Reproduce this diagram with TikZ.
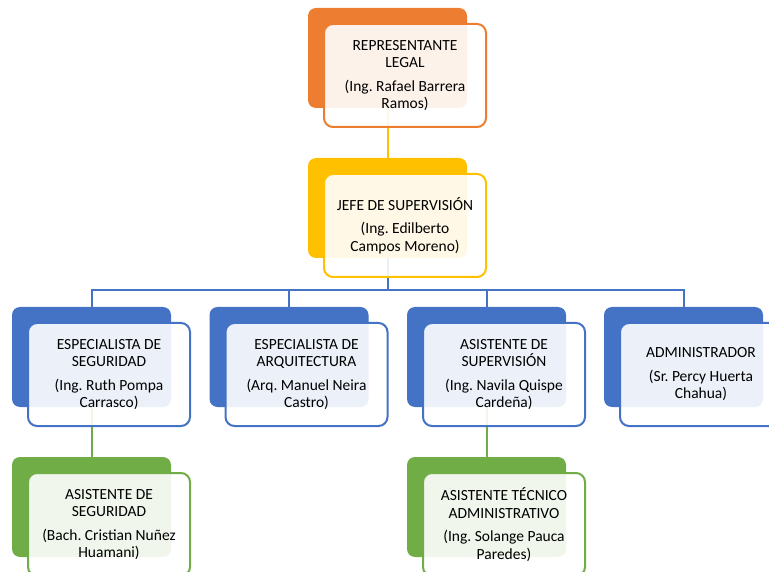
\documentclass[tikz,border=0pt]{standalone}
\usepackage{fontspec}
\setmainfont{Carlito}
\frenchspacing
\definecolor{corange}{HTML}{ED7D31}
\definecolor{cyellow}{HTML}{FFC000}
\definecolor{cblue}{HTML}{4472C4}
\definecolor{cgreen}{HTML}{70AD47}
\tikzset{
  backbox/.style={draw=none, rounded corners=8pt, minimum width=159pt, minimum height=100pt, inner sep=0pt},
  frontbox/.style={line width=2pt, rounded corners=9pt, fill=white, fill opacity=0.9,
    minimum width=162pt, minimum height=103pt, inner sep=0pt},
  boxtext/.style={inner sep=0pt, align=center, font=\fontsize{15.5}{17.5}\selectfont},
  conn/.style={line width=2pt},
}
\newcommand\orgunit[5]{%
  \node[backbox, fill=#4] (#1b) at (#2,#3) {};
  \node[frontbox, draw=#4] (#1) at ([xshift=17.5pt,yshift=-17.5pt]#1b.center) {};
  \node[boxtext] (#1t) at (#1.center) {#5};
}
\begin{document}
\begin{tikzpicture}[x=1pt,y=-1pt]
\useasboundingbox (0,0) rectangle (769,572);
\clip (0,0) rectangle (769,572);
% connectors first (behind boxes)
\coordinate (bar) at (0,290);
\coordinate (repc) at (387.5,108);
\coordinate (jefetop) at (387.5,158);
\coordinate (jefec) at (387.5,258);
\draw[conn, cyellow] (repc) -- (jefetop);
\draw[conn, cblue] (jefec) -- (jefec |- bar);
\draw[conn, cblue] (91.5,307) |- (683.5,290) -- (683.5,307);
\draw[conn, cblue] (289,290) -- (289,307);
\draw[conn, cblue] (486.5,290) -- (486.5,307);
\draw[conn, cgreen] (91.5,407) -- (91.5,457);
\draw[conn, cgreen] (486.5,407) -- (486.5,457);
% units
\orgunit{rep}{387.5}{58}{corange}{REPRESENTANTE\\LEGAL\\[6pt](Ing. Rafael Barrera\\Ramos)}
\orgunit{jefe}{387.5}{208}{cyellow}{JEFE DE SUPERVISIÓN\\[6pt](Ing. Edilberto\\Campos Moreno)}
\orgunit{esp1}{91.5}{357}{cblue}{ESPECIALISTA DE\\SEGURIDAD\\[6pt](Ing. Ruth Pompa\\Carrasco)}
\orgunit{esp2}{289}{357}{cblue}{ESPECIALISTA DE\\ARQUITECTURA\\[6pt](Arq. Manuel Neira\\Castro)}
\orgunit{asis}{486.5}{357}{cblue}{ASISTENTE DE\\SUPERVISIÓN\\[6pt](Ing. Navila Quispe\\Cardeña)}
\orgunit{adm}{683.5}{357}{cblue}{ADMINISTRADOR\\[6pt](Sr. Percy Huerta\\Chahua)}
\orgunit{aseg}{91.5}{507}{cgreen}{ASISTENTE DE\\SEGURIDAD\\[6pt](Bach. Cristian Nuñez\\Huamani)}
\orgunit{atec}{486.5}{507}{cgreen}{ASISTENTE TÉCNICO\\ADMINISTRATIVO\\[6pt](Ing. Solange Pauca\\Paredes)}
\end{tikzpicture}
\end{document}
